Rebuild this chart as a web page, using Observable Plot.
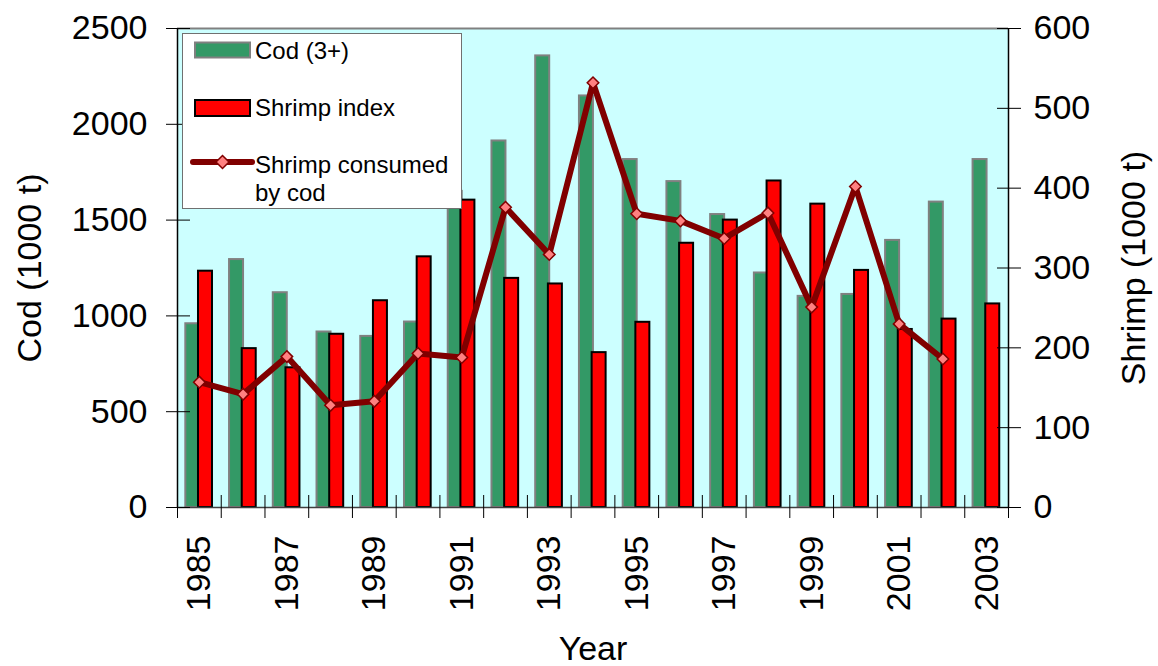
<!DOCTYPE html>
<html><head><meta charset="utf-8">
<script src="https://cdn.jsdelivr.net/npm/d3@7"></script>
<script src="https://cdn.jsdelivr.net/npm/@observablehq/plot@0.6"></script>
<style>
body{margin:0;background:#fff;font-family:"Liberation Sans",Arial,sans-serif}
#wrap{position:relative;width:1158px;height:666px}
#legend{position:absolute;left:182px;top:33px;width:280px;height:176px;background:#fff;border:1px solid #707070;box-sizing:border-box}
#legend svg{position:absolute;left:0;top:0}
.lt{position:absolute;font-size:24px;line-height:28px;color:#000;white-space:nowrap}
</style></head><body>
<div id="wrap"><div id="chart"></div>
<div id="legend">
<svg width="280" height="176">
<rect x="12" y="8.5" width="55" height="15" fill="#339966" stroke="#808080" stroke-width="2"/>
<rect x="12" y="66" width="55" height="16" fill="#ff0000" stroke="#000" stroke-width="2"/>
<line x1="10" y1="128" x2="69" y2="128" stroke="#800000" stroke-width="6" stroke-linecap="round"/>
<path d="M39.5,121.5 L46,128 L39.5,134.5 L33,128 Z" fill="#ff8080" stroke="#800000" stroke-width="1.5"/>
</svg>
<div class="lt" style="left:72px;top:3px">Cod (3+)</div>
<div class="lt" style="left:72px;top:60px">Shrimp index</div>
<div class="lt" style="left:72px;top:117px">Shrimp consumed<br>by cod</div>
</div>
</div>
<script>
const years = [1985,1986,1987,1988,1989,1990,1991,1992,1993,1994,1995,1996,1997,1998,1999,2000,2001,2002,2003];
const codBiomass = [959,1294,1121,916,893,968,1650,1913,2357,2148,1816,1701,1529,1224,1102,1112,1394,1594,1816];
const shrimpIndex = [296,199,175,217,259,314,385,287,280,194,232,331,360,409,380,297,223,236,255];
const consumedYears = [1985,1986,1987,1988,1989,1990,1991,1992,1993,1994,1995,1996,1997,1998,1999,2000,2001,2002];
const shrimpConsumed = [157,142,189,128,133,193,188,376,317,532,368,359,337,369,251,402,230,186];
const leftTicks = [0,500,1000,1500,2000,2500];
const rightTicks = [0,100,200,300,400,500,600];
const labelYears = [1985,1987,1989,1991,1993,1995,1997,1999,2001,2003];

const leftMax = 2500, rightMax = 600, k = leftMax / rightMax;
const x0 = years[0] - 0.5, x1 = years[years.length - 1] + 0.5;
const boundaries = d3.range(years.length + 1).map(i => x0 + i);

const bars = years.map((y, i) => ({year: y, cod: codBiomass[i], shrimp: shrimpIndex[i] * k}));
const line = consumedYears.map((y, i) => ({year: y, v: shrimpConsumed[i] * k}));

const chart = Plot.plot({
  width: 1158, height: 666,
  marginLeft: 177, marginRight: 150, marginTop: 28, marginBottom: 159,
  style: {fontFamily: '"Liberation Sans", Arial, sans-serif', background: "transparent", color: "#000"},
  x: {type: "linear", domain: [x0, x1]},
  y: {domain: [0, leftMax]},
  marks: [
    Plot.frame({fill: "#ccffff", stroke: null}),
    Plot.rect(bars, {x1: d => d.year - 0.31, x2: d => d.year + 0.01, y1: 0, y2: "cod", fill: "#339966", stroke: "#808080", strokeWidth: 2}),
    Plot.rect(bars, {x1: d => d.year - 0.02, x2: d => d.year + 0.30, y1: 0, y2: "shrimp", fill: "#ff0000", stroke: "#000", strokeWidth: 2}),
    Plot.line(line, {x: "year", y: "v", stroke: "#800000", strokeWidth: 6, strokeLinejoin: "miter"}),
    Plot.dot(line, {x: "year", y: "v", symbol: "diamond2", r: 5.2, fill: "#ff8080", stroke: "#800000", strokeWidth: 1.5}),
    Plot.ruleY([leftMax], {stroke: "#808080", strokeWidth: 2}),
    Plot.ruleY([0], {stroke: "#404040", strokeWidth: 1.5}),
    Plot.ruleX([x0, x1], {stroke: "#000", strokeWidth: 1.5}),
    Plot.axisX({ticks: boundaries, tickSize: 23, dy: -12, tickFormat: () => "", stroke: "#000", label: null}),
    Plot.axisX({ticks: labelYears, tickSize: 0, tickPadding: 28, tickRotate: -90, textAnchor: "end", lineAnchor: "middle", fontSize: 34, tickFormat: d => String(d), label: null}),
    Plot.axisY({anchor: "left", ticks: leftTicks, tickSize: 24, dx: 13, tickFormat: () => "", label: null}),
    Plot.axisY({anchor: "left", ticks: leftTicks, tickSize: 0, tickPadding: 30, fontSize: 34, tickFormat: d => String(d), label: null}),
    Plot.axisY({anchor: "right", ticks: rightTicks.map(v => v * k), tickSize: 24, dx: -12, tickFormat: () => "", label: null}),
    Plot.axisY({anchor: "right", ticks: rightTicks.map(v => v * k), tickSize: 0, tickPadding: 25, fontSize: 34, tickFormat: d => String(Math.round(d / k)), label: null}),
    Plot.text(["Cod (1000 t)"], {frameAnchor: "left", dx: -147, rotate: -90, fontSize: 34, textAnchor: "middle", lineAnchor: "middle"}),
    Plot.text(["Shrimp (1000 t)"], {frameAnchor: "right", dx: 126, rotate: -90, fontSize: 34, textAnchor: "middle", lineAnchor: "middle"}),
    Plot.text(["Year"], {frameAnchor: "bottom", dy: 142, fontSize: 34, textAnchor: "middle", lineAnchor: "middle"})
  ]
});
document.getElementById("chart").appendChild(chart);
</script>
</body></html>
